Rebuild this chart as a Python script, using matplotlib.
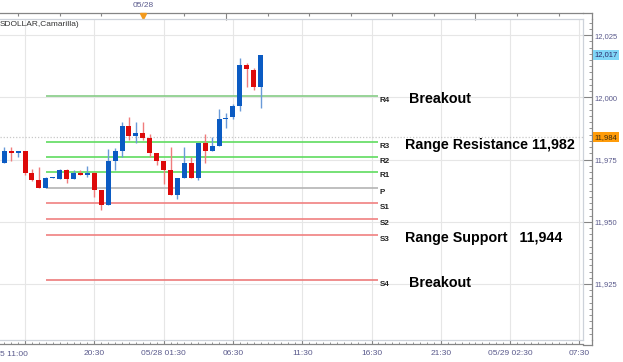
import numpy as np
import matplotlib
matplotlib.use("Agg")
import matplotlib.pyplot as plt
from matplotlib.lines import Line2D

plt.rcParams['font.family'] = ['Liberation Sans', 'DejaVu Sans']

# 30 minute bars, index 0 = 05/27 15:30
bar_idx = list(range(-3, 35))
opens = [11973.5, 11978.4, 11977.5, 11978.4, 11969.7, 11966.6, 11963.5, 11967.5,
         11967.3, 11970.7, 11967.3, 11969.7, 11968.7, 11969.7, 11962.6, 11956.8,
         11974.4, 11978.3, 11988.5, 11984.5, 11985.5, 11983.5, 11977.5, 11974.4,
         11970.7, 11960.8, 11967.5, 11973.5, 11967.5, 11981.5, 11978.4, 11980.4,
         11991.3, 11992.0, 11996.5, 12013.0, 12011.0, 12004.0]
highs = [11980.2, 11980.2, 11978.6, 11978.4, 11971.3, 11972.1, 11968.1, 11967.9,
         11971.1, 11971.1, 11970.6, 11970.6, 11972.4, 11969.8, 11962.7, 11979.1,
         11979.8, 11990.1, 11992.0, 11990.1, 11990.1, 11985.3, 11977.6, 11974.5,
         11980.2, 11967.6, 11980.2, 11976.1, 11981.6, 11985.3, 11984.2, 11995.2,
         11993.6, 11997.3, 12015.7, 12013.7, 12011.6, 12017.0]
lows = [11973.5, 11974.5, 11975.9, 11968.9, 11966.5, 11963.4, 11963.4, 11967.4,
        11967.2, 11965.7, 11967.2, 11968.6, 11967.9, 11960.0, 11954.7, 11956.7,
        11970.8, 11975.9, 11982.9, 11981.8, 11982.9, 11976.1, 11972.8, 11965.1,
        11960.7, 11959.2, 11967.4, 11967.4, 11966.8, 11973.7, 11978.3, 11980.3,
        11987.6, 11991.3, 11994.6, 12004.3, 12002.9, 11995.6]
closes = [11978.4, 11977.5, 11978.4, 11969.7, 11966.6, 11963.5, 11967.5, 11967.8,
          11970.7, 11967.3, 11969.7, 11968.7, 11969.7, 11962.6, 11956.8, 11974.5,
          11978.3, 11988.5, 11984.5, 11985.5, 11983.5, 11977.5, 11974.4, 11970.7,
          11960.8, 11967.5, 11973.5, 11967.5, 11981.5, 11978.4, 11980.3, 11991.3,
          11991.5, 11996.5, 12013.0, 12011.2, 12004.0, 12017.0]

level_names = ['R4', 'R3', 'R2', 'R1', 'P', 'S1', 'S2', 'S3', 'S4']
level_values = [12000.5, 11982.0, 11976.0, 11970.0, 11963.5, 11957.5, 11951.0, 11944.5, 11926.5]
level_colors = ['#86cc86', '#5fdc5f', '#5fdc5f', '#5fdc5f', '#b4b4b4',
                '#f08080', '#f08080', '#f08080', '#ec7a7a']

last_price = 12017
marker_price = 11984

xtick_pos = [0, 10, 20, 30, 40, 50, 60, 70, 80]
xtick_labels = ['', '20:30', '05/28 01:30', '06:30', '11:30', '16:30', '21:30',
                '05/29 02:30', '07:30']
ytick_pos = [11925, 11950, 11975, 12000, 12025]
ytick_labels = ['11,925', '11,950', '11,975', '12,000', '12,025']

notes = [('Breakout', 12000.5), ('Range Resistance 11,982', 11982.0),
         ('Range Support   11,944', 11944.5), ('Breakout', 11926.5)]

W, H = 623, 362
fig = plt.figure(figsize=(W / 100, H / 100), dpi=100)
ax = fig.add_axes([0, 22 / H, 583 / W, 321 / H])
ax.set_xlim(-3.61, 80.52)
ax.set_ylim(11902.5, 12031.45)

tick_col = '#5a5a8c'
frame_col = '#858585'
inner_col = '#cdd2da'

ax.set_xticks(xtick_pos)
ax.set_xticklabels(xtick_labels)
ax.set_xticks(np.arange(-3, 81), minor=True)
ax.yaxis.tick_right()
ax.set_yticks(ytick_pos)
ax.set_yticklabels(ytick_labels)
ax.set_yticks(np.arange(11905, 12031, 2.5), minor=True)
ax.grid(which='major', color='#e6e6e6', lw=0.8)
ax.set_axisbelow(True)

for s in ['left', 'top']:
    ax.spines[s].set_visible(False)
ax.spines['right'].set_position(('outward', 6.5))
ax.spines['bottom'].set_position(('outward', 2.9))
for s in ['right', 'bottom']:
    ax.spines[s].set_color(frame_col)
    ax.spines[s].set_linewidth(0.9)

ax.tick_params(axis='y', which='major', direction='in', length=6.5, width=0.8,
               color=frame_col, pad=2, labelsize=5.5, labelcolor=tick_col)
ax.tick_params(axis='y', which='minor', direction='in', length=2.2, width=0.6,
               color=frame_col)
ax.tick_params(axis='x', which='major', direction='in', length=2.9, width=0.8,
               color=frame_col, pad=4, labelsize=6, labelcolor=tick_col)
ax.tick_params(axis='x', which='minor', direction='in', length=1.3, width=0.6,
               color=frame_col)

# top time axis
sec = ax.secondary_xaxis(1 + 6.3 / 321)
sec.set_xticks([29, 65])
sec.set_xticks([t for t in range(-1, 80, 6) if t not in (29, 65)], minor=True)
sec.tick_params(which='major', direction='in', length=4.8, width=0.8, color=frame_col,
                labeltop=False)
sec.tick_params(which='minor', direction='in', length=2, width=0.8, color=frame_col)
sec.set_xticklabels([])
sec.spines['top'].set_color(frame_col)
sec.spines['top'].set_linewidth(0.9)

# inner border of the plot area and corner pieces of the outer frame
for xs, ys, c in [([0, 583], [19, 19], inner_col), ([583, 583], [19, 340], inner_col),
                  ([0, 583], [340, 340], inner_col), ([583, 592], [12.7, 12.7], frame_col),
                  ([592, 592], [12.7, 19], frame_col), ([592, 592], [340, 344.5], frame_col),
                  ([583, 592], [344.5, 344.5], frame_col)]:
    fig.add_artist(Line2D([x / W for x in xs], [1 - y / H for y in ys],
                          color=c, lw=0.9, transform=fig.transFigure))

# current price dotted line
ax.axhline(marker_price, color='#c8c8c8', lw=0.9, ls=(0, (1, 1.5)), zorder=1)

# pivot levels
for name, val, col in zip(level_names, level_values, level_colors):
    ax.hlines(val, 3, 51, color=col, lw=1.2, zorder=2)
    ax.text(51.15, val - 1.6, name, fontsize=5.8, fontweight='bold', color='#222222',
            va='center', ha='left')

# candles
o = np.array(opens)
c = np.array(closes)
up = c >= o
wick_cols = np.where(up, '#6a9ad8', '#f07c7c')
body_cols = np.where(up, '#0b5bc3', '#dd0a0a')
ax.vlines(bar_idx, lows, highs, colors=wick_cols, lw=1, zorder=3)
bottoms = np.minimum(o, c)
heights = np.maximum(np.abs(c - o), 0.45)
ax.bar(bar_idx, heights, bottom=bottoms, width=0.72, color=body_cols, lw=0, zorder=4)

# annotations
for txt, val in notes:
    x0 = 55.4 if txt == 'Breakout' else 54.8
    ax.text(x0, val - 1.2, txt, fontsize=10.3, fontweight='bold', color='black',
            va='center', ha='left')

# price badges on the right scale
ytr = ax.get_yaxis_transform()
ax.text(1 + 11.5 / 583, last_price, '12,017', transform=ytr, fontsize=5.5, color='#2a2a6a',
        va='center', ha='left', bbox=dict(boxstyle='square,pad=0.18', fc='#80d6f7', ec='none'))
ax.text(1 + 11.5 / 583, marker_price, '11,984', transform=ytr, fontsize=5.5, color='#3a2a10',
        va='center', ha='left', bbox=dict(boxstyle='square,pad=0.18', fc='#ff9c0a', ec='none'))

# top date marker
xtr = ax.get_xaxis_transform()
ax.plot([17], [1 + 2.8 / 321], marker='v', ms=5, color='#f29a1e', transform=xtr,
        clip_on=False, zorder=6)
fig.text(143 / W, 1 - 5.5 / H, '05/28', fontsize=6, color=tick_col, ha='center', va='center')

fig.text(0, 1 - 24 / H, 'SDOLLAR,Camarilla)', fontsize=6, color='#333333', ha='left',
         va='center')
fig.text(0, 1 - 355 / H, '5 11:00', fontsize=6, color=tick_col, ha='left', va='center')

fig.savefig('out.png', dpi=100)
